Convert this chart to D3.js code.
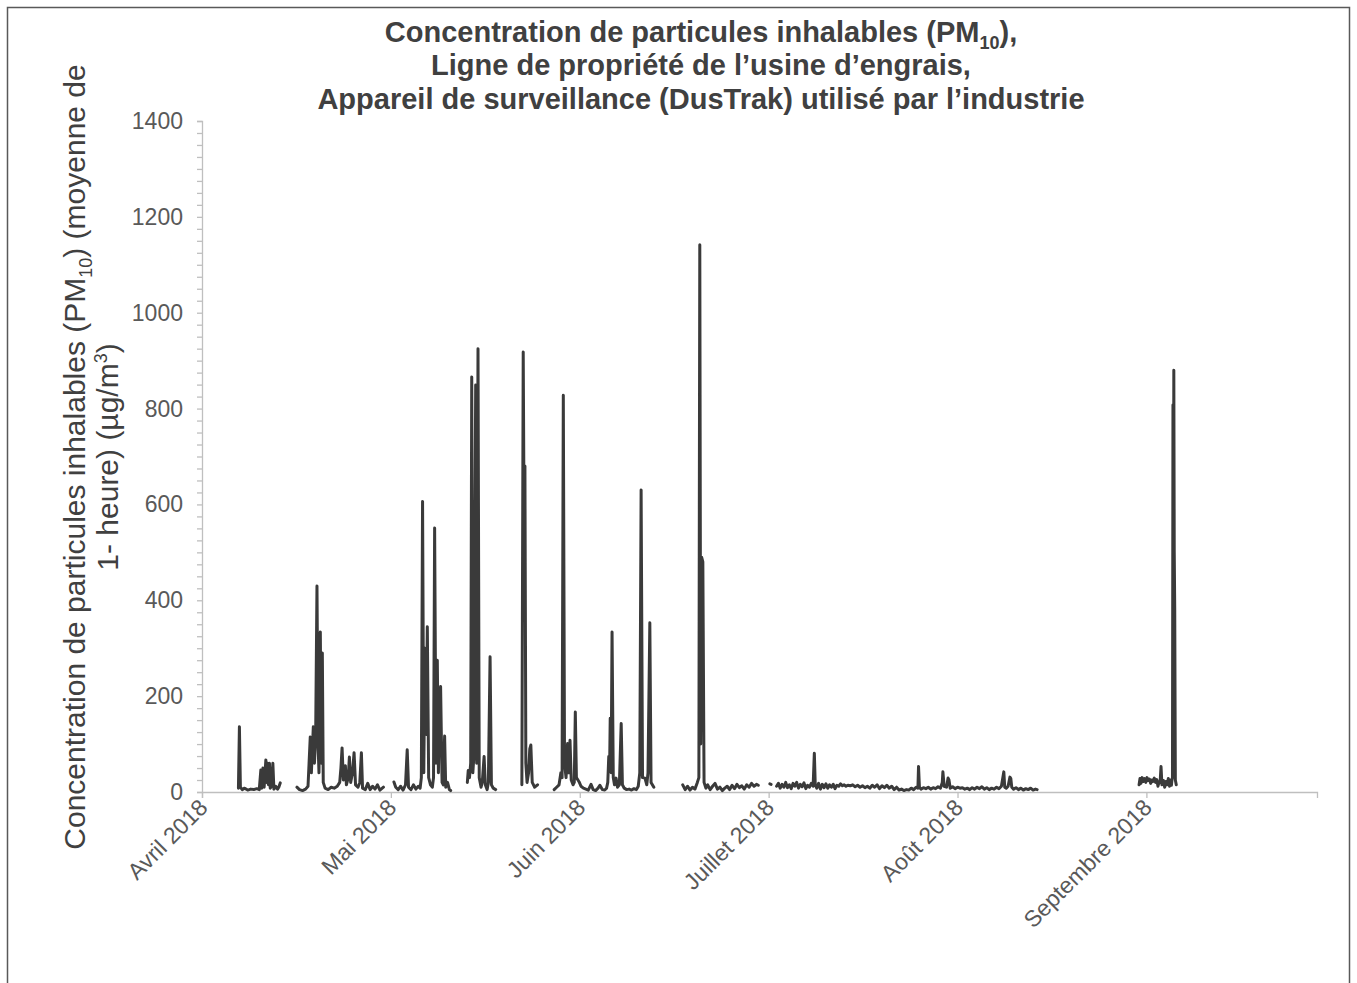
<!DOCTYPE html>
<html lang="fr">
<head>
<meta charset="utf-8">
<script src="https://cdn.jsdelivr.net/npm/d3@7"></script>
<style>
  html, body { margin: 0; padding: 0; background: #ffffff; }
  svg { display: block; font-family: "Liberation Sans", Arial, sans-serif; }
</style>
</head>
<body>
<svg id="chart" width="1357" height="983"></svg>
<script>
// Hourly PM10 readings (DusTrak), as days elapsed since 1 April 2018; null = no data.
const pm10Days = [
  5.98, 6.14, 6.3, 6.6, 7.0, 7.5, 8.0, 8.5, 9.0, 9.4, 9.66, 9.8, 10.0, 10.2, 10.48, 10.6, 10.75, 10.9, 11.07, 11.2, 11.4, 11.63, 11.8, 12.1, 12.4, 12.6, 12.84, 12.9,
  15.58, 16.0, 16.5, 17.0, 17.4, 17.77, 17.95, 18.27, 18.45, 18.65, 18.87, 19.05, 19.2, 19.42, 19.58, 19.75, 19.9, 20.2, 20.7, 21.2, 21.7, 22.2, 22.6, 22.8, 22.99, 23.2, 23.53, 23.7, 24.0, 24.19, 24.4, 24.7, 24.96, 25.2, 25.6, 25.9, 26.16, 26.35, 26.8, 27.2, 27.6, 28.0, 28.4, 28.8, 29.2, 29.78, 29.9,
  31.5, 31.8, 32.2, 32.6, 33.0, 33.4, 33.68, 33.9, 34.3, 34.7, 35.1, 35.5, 35.8, 36.0, 36.2, 36.4, 36.6, 36.8, 36.98, 37.2, 37.5, 37.8, 38.0, 38.18, 38.4, 38.62, 38.8, 39.0, 39.16, 39.4, 39.6, 39.82, 40.0, 40.3, 40.6, 40.81, 41.0,
  43.55, 43.7, 43.9, 44.1, 44.27, 44.45, 44.6, 44.92, 45.08, 45.3, 45.5, 45.8, 46.0, 46.3, 46.5, 46.8, 47.0, 47.28, 47.5, 47.8, 48.2, 48.3,
  52.5, 52.72, 52.85, 53.0, 53.15, 53.35, 53.6, 53.8, 53.97, 54.2, 54.6, 55.07, 55.2,
  57.8, 58.2, 58.6, 58.9, 59.1, 59.3, 59.5, 59.75, 60.0, 60.2, 60.4, 60.6, 60.9, 61.1, 61.27, 61.45, 61.7, 61.9, 62.2, 62.6, 63.0, 63.4, 63.85, 64.2, 64.6, 65.0, 65.3, 65.7, 66.1, 66.4, 66.6, 66.76, 66.9, 67.0, 67.15, 67.3, 67.5, 67.7, 67.96, 68.2, 68.5, 68.8, 69.0, 69.3, 69.7, 70.1, 70.5, 70.9, 71.3, 71.6, 71.85, 72.07, 72.3, 72.7, 73.0, 73.2, 73.5, 73.7, 74.16, 74.3,
  78.9, 79.3, 79.7, 80.1, 80.5, 80.9, 81.3, 81.55, 81.7, 81.85, 82.0, 82.2, 82.4, 82.7, 83.0, 83.4, 83.8, 84.2, 84.6, 85.0, 85.4, 85.8, 86.2, 86.6, 87.0, 87.4, 87.8, 88.2, 88.6, 89.0, 89.4, 89.8, 90.2, 90.6, 91.0, 91.3, 91.5,
  93.2, 93.4, 93.6,
  94.3, 94.6, 94.9, 95.2, 95.5, 95.8, 96.1, 96.4, 96.7, 97.0, 97.3, 97.6, 97.9, 98.2, 98.5, 98.8, 99.1, 99.4, 99.7, 100.0, 100.3, 100.5, 100.65, 100.9, 101.2, 101.5, 101.8, 102.1, 102.4, 102.7, 103.0, 103.3, 103.6, 103.9, 104.2, 104.5, 104.8, 105.1, 105.4, 105.7, 106.0, 106.4, 106.8, 107.2, 107.6, 108.0, 108.4, 108.8, 109.2, 109.6, 110.0, 110.4, 110.8, 111.2, 111.6, 112.0, 112.4, 112.8, 113.2, 113.6, 114.0, 114.4, 114.8, 115.2, 115.6, 116.0, 116.4, 116.8, 117.2, 117.5, 117.6, 117.75, 118.0, 118.4, 118.8, 119.2, 119.6, 120.0, 120.4, 120.8, 121.2, 121.5, 121.6, 121.8, 122.2, 122.45, 122.6, 122.8, 123.2, 123.6, 124.0, 124.4, 124.8, 125.2, 125.6, 126.0, 126.4, 126.8, 127.2, 127.6, 128.0, 128.4, 128.8, 129.2, 129.6, 130.0, 130.4, 130.8, 131.2, 131.6, 131.75, 132.0, 132.3, 132.6, 132.75, 132.9, 133.2, 133.6, 134.0, 134.4, 134.8, 135.2, 135.6, 136.0, 136.4, 136.8, 137.07, 137.2,
  153.8, 153.95, 154.1, 154.3, 154.5, 154.7, 154.9, 155.1, 155.3, 155.5, 155.7, 155.9, 156.1, 156.3, 156.5, 156.7, 156.9, 157.1, 157.25, 157.4, 157.55, 157.8, 158.0, 158.2, 158.4, 158.6, 158.8, 159.0, 159.1, 159.2, 159.28, 159.36, 159.44, 159.5, 159.57, 159.65, 159.75, 159.9, 160.0
];
const pm10Values = [
  8, 136, 10, 5, 8, 4, 6, 5, 7, 5, 46, 8, 50, 10, 67, 20, 60, 15, 60, 8, 12, 60, 6, 12, 6, 10, 19, null,
  10, 5, 3, 6, 12, 115, 40, 136, 60, 110, 430, 100, 40, 334, 60, 290, 20, 8, 5, 10, 8, 12, 20, 50, 92, 25, 55, 15, 30, 73, 20, 40, 82, 15, 10, 20, 82, 8, 5, 18, 5, 12, 6, 15, 4, 10, null,
  21, 10, 5, 12, 4, 15, 88, 10, 5, 15, 6, 12, 8, 30, 606, 40, 300, 120, 345, 30, 15, 10, 30, 551, 60, 275, 40, 200, 220, 20, 15, 117, 10, 20, 5, 3, null,
  20, 45, 30, 60, 866, 40, 70, 849, 60, 925, 30, 10, 20, 74, 15, 5, 20, 282, 15, 8, 5, null,
  15, 918, 600, 680, 60, 20, 40, 90, 98, 20, 10, 15, null,
  5, 10, 15, 40, 30, 828, 60, 30, 101, 40, 108, 25, 15, 20, 167, 30, 25, 21, 12, 8, 6, 4, 16, 5, 3, 8, 14, 5, 4, 8, 20, 74, 50, 154, 40, 334, 30, 15, 29, 10, 15, 143, 15, 8, 5, 6, 4, 7, 5, 12, 40, 630, 30, 29, 15, 40, 353, 20, 10, null,
  15, 5, 12, 4, 10, 6, 20, 30, 1142, 100, 490, 480, 20, 8, 15, 5, 12, 18, 6, 10, 3, 8, 12, 5, 14, 7, 16, 9, 13, 6, 15, 10, 18, 12, 16, 14, null,
  17, 16, null,
  12, 18, 8, 16, 10, 20, 9, 15, 7, 18, 12, 20, 8, 16, 11, 19, 7, 14, 10, 18, 12, 81, 15, 8, 18, 6, 16, 9, 17, 8, 15, 10, 16, 7, 14, 12, 17, 13, 15, 12, 14, 13, 15, 11, 14, 10, 13, 9, 12, 8, 14, 10, 15, 7, 13, 9, 14, 8, 12, 5, 10, 4, 6, 3, 5, 4, 8, 5, 10, 8, 53, 10, 6, 9, 7, 10, 6, 9, 7, 11, 8, 20, 42, 12, 10, 29, 25, 8, 11, 7, 10, 8, 9, 6, 8, 5, 9, 6, 10, 7, 11, 6, 9, 5, 8, 6, 10, 7, 12, 42, 10, 8, 12, 31, 28, 10, 6, 9, 5, 8, 4, 7, 5, 8, 4, 6, 5, null,
  15, 28, 18, 30, 22, 28, 20, 30, 24, 27, 18, 25, 22, 29, 20, 26, 12, 22, 20, 53, 15, 24, 10, 22, 15, 28, 12, 25, 14, 26, 30, 808, 420, 880, 500, 380, 25, 15, null
];

// Axis ticks
const yTicks = [0, 200, 400, 600, 800, 1000, 1200, 1400];
const xTickDates = ["2018-04-01", "2018-05-02", "2018-06-02", "2018-07-03", "2018-08-03", "2018-09-03"];
const xTickLabels = ["Avril 2018", "Mai 2018", "Juin 2018", "Juillet 2018", "Août 2018", "Septembre 2018"];

const startDate = new Date(2018, 3, 1);
const endDate = new Date(2018, 9, 1);
const DAY = 86400000;

const data = pm10Days.map((d, i) => ({ date: new Date(startDate.getTime() + d * DAY), value: pm10Values[i] }));
const parseDay = d3.timeParse("%Y-%m-%d");

const svg = d3.select("#chart");

// Outer chart frame
svg.append("rect")
  .attr("x", 7.5).attr("y", 7.5)
  .attr("width", 1342).attr("height", 990)
  .attr("fill", "none").attr("stroke", "#595959").attr("stroke-width", 1.5);

const x = d3.scaleTime().domain([startDate, endDate]).range([202, 1317]);
const y = d3.scaleLinear().domain([0, 1400]).range([792, 121]);

// Y axis: line, minor ticks every 25, labels every 200
const yAxis = svg.append("g").attr("transform", "translate(202,0)");
yAxis.call(d3.axisLeft(y).tickValues(d3.range(0, 1401, 25)).tickSize(5).tickFormat(""));
yAxis.select(".domain").attr("stroke", "#bfbfbf").attr("stroke-width", 1.3);
yAxis.selectAll(".tick line").attr("stroke", "#bfbfbf").attr("stroke-width", 1.3);

svg.append("g").selectAll("text").data(yTicks).join("text")
  .attr("x", 183).attr("y", d => y(d) + 8)
  .attr("text-anchor", "end")
  .attr("font-size", 23).attr("fill", "#595959")
  .text(d => d);

// X axis
const xAxis = svg.append("g").attr("transform", "translate(0,792)");
xAxis.call(d3.axisBottom(x).tickValues(xTickDates.map(parseDay)).tickSize(6).tickFormat(""));
xAxis.select(".domain").attr("stroke", "#bfbfbf").attr("stroke-width", 1.3);
xAxis.selectAll(".tick line").attr("stroke", "#bfbfbf").attr("stroke-width", 1.3);

svg.append("g").selectAll("text").data(xTickDates).join("text")
  .attr("transform", d => `translate(${x(parseDay(d)) + 7},809) rotate(-45)`)
  .attr("text-anchor", "end")
  .attr("font-size", 23).attr("fill", "#595959")
  .text((d, i) => xTickLabels[i]);

// PM10 series
const line = d3.line()
  .defined(d => d.value !== null)
  .x(d => x(d.date))
  .y(d => y(d.value));

svg.append("path")
  .datum(data)
  .attr("d", line)
  .attr("fill", "none")
  .attr("stroke", "#3a3a3a")
  .attr("stroke-width", 3)
  .attr("stroke-linejoin", "round")
  .attr("stroke-linecap", "round");

// Title
const title = svg.append("text")
  .attr("text-anchor", "middle")
  .attr("font-size", 29).attr("font-weight", "bold").attr("fill", "#404040");
const t1 = title.append("tspan").attr("x", 701).attr("y", 42);
t1.append("tspan").text("Concentration de particules inhalables (PM");
t1.append("tspan").attr("font-size", 18).attr("dy", 7).text("10");
t1.append("tspan").attr("dy", -7).text("),");
title.append("tspan").attr("x", 701).attr("y", 75).text("Ligne de propriété de l’usine d’engrais,");
title.append("tspan").attr("x", 701).attr("y", 109).text("Appareil de surveillance (DusTrak) utilisé par l’industrie");

// Y axis title (two lines, rotated)
const yTitle = svg.append("text")
  .attr("transform", "translate(0,457) rotate(-90)")
  .attr("text-anchor", "middle")
  .attr("font-size", 30).attr("fill", "#404040");
const l1 = yTitle.append("tspan").attr("x", 0).attr("y", 85);
l1.append("tspan").text("Concentration de particules inhalables (PM");
l1.append("tspan").attr("font-size", 18).attr("dy", 7).text("10");
l1.append("tspan").attr("dy", -7).text(") (moyenne de");
const l2 = yTitle.append("tspan").attr("x", 0).attr("y", 118);
l2.append("tspan").text("1- heure) (µg/m");
l2.append("tspan").attr("font-size", 18).attr("dy", -11).text("3");
l2.append("tspan").attr("dy", 11).text(")");
</script>
</body>
</html>
